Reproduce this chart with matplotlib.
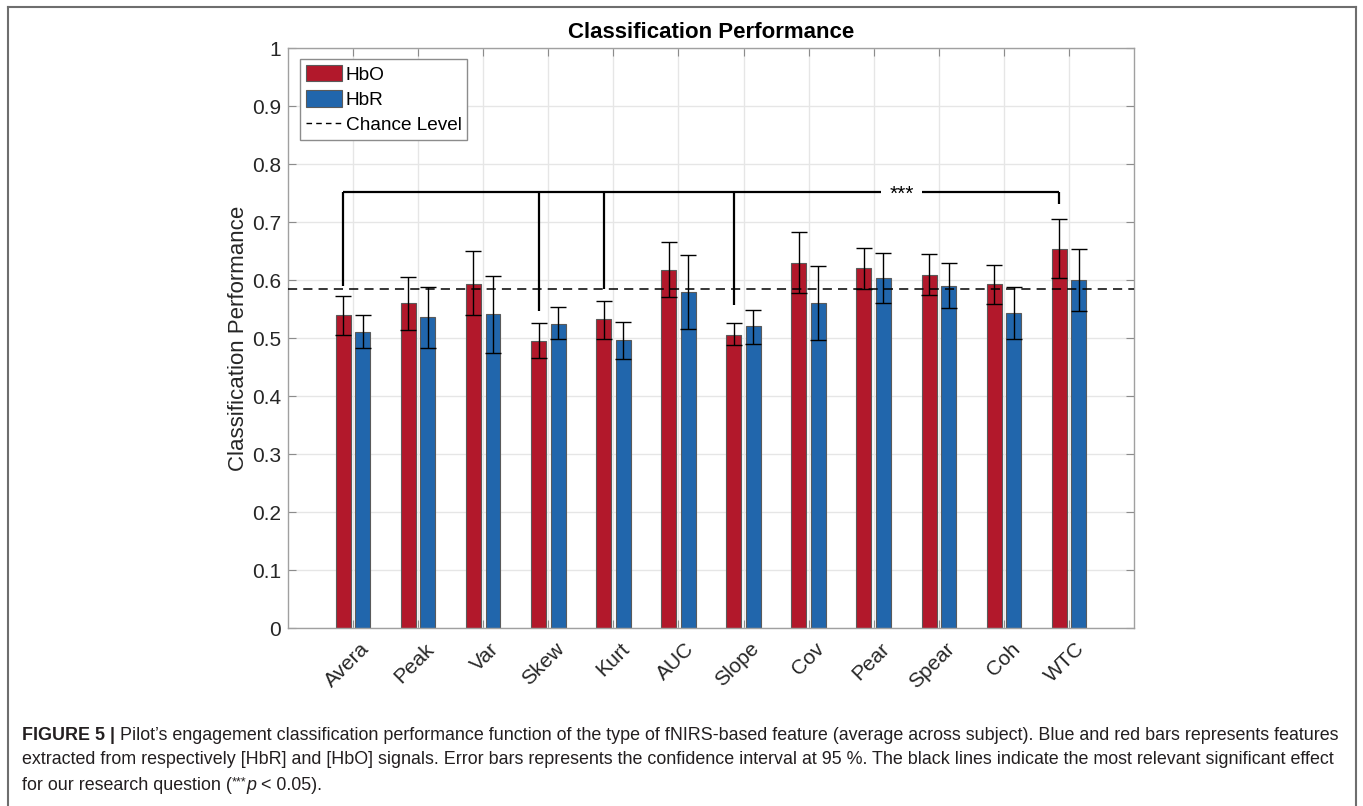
import numpy as np
import matplotlib
matplotlib.use("Agg")
import matplotlib.pyplot as plt
from matplotlib.lines import Line2D
from matplotlib.patches import Patch

plt.rcParams['font.family'] = ['Liberation Sans', 'DejaVu Sans']

# data
features = ["Avera", "Peak", "Var", "Skew", "Kurt", "AUC", "Slope",
            "Cov", "Pear", "Spear", "Coh", "WTC"]
hbo = [0.539, 0.560, 0.594, 0.495, 0.532, 0.618, 0.506,
       0.630, 0.620, 0.609, 0.593, 0.654]
hbo_lo = [0.505, 0.514, 0.539, 0.465, 0.499, 0.571, 0.488,
          0.578, 0.584, 0.574, 0.558, 0.603]
hbo_hi = [0.573, 0.605, 0.650, 0.526, 0.564, 0.666, 0.526,
          0.682, 0.656, 0.645, 0.626, 0.705]
hbr = [0.511, 0.536, 0.541, 0.525, 0.496, 0.579, 0.520,
       0.561, 0.603, 0.590, 0.544, 0.600]
hbr_lo = [0.483, 0.483, 0.475, 0.498, 0.464, 0.515, 0.490,
          0.496, 0.560, 0.551, 0.499, 0.546]
hbr_hi = [0.539, 0.588, 0.607, 0.554, 0.528, 0.643, 0.549,
          0.625, 0.647, 0.630, 0.588, 0.654]
chance = 0.584

# significance bracket: which HbO bars, where each leg ends, bar height
sig_idx = [0, 3, 4, 6, 11]
sig_ends = [0.590, 0.546, 0.584, 0.557, 0.731]
sig_y = 0.751
sig_label = "***"

red = '#b2182b'
blue = '#2166ac'

x = np.arange(1, len(features) + 1)
off = 0.15
w = 0.23

fig = plt.figure(figsize=(13.63, 8.06), dpi=100)
ax = fig.add_axes([0.2113, 0.2208, 0.6207, 0.7196])

ax.grid(True, color='#e6e6e6', lw=1, zorder=0)
ax.set_axisbelow(True)

hbo = np.array(hbo); hbr = np.array(hbr)
err_o = [hbo - np.array(hbo_lo), np.array(hbo_hi) - hbo]
err_r = [hbr - np.array(hbr_lo), np.array(hbr_hi) - hbr]

ax.bar(x - off, hbo, w, color=red, edgecolor='#5a5a5a', lw=0.8, zorder=2)
ax.bar(x + off, hbr, w, color=blue, edgecolor='#5a5a5a', lw=0.8, zorder=2)
ax.errorbar(x - off, hbo, yerr=err_o, fmt='none', ecolor='black',
            elinewidth=1, capsize=5.5, capthick=1, zorder=3)
ax.errorbar(x + off, hbr, yerr=err_r, fmt='none', ecolor='black',
            elinewidth=1, capsize=5.5, capthick=1, zorder=3)

ax.axhline(chance, color='black', ls=(0, (6, 4)), lw=1.1, zorder=4)

# bracket
bx = x[sig_idx] - off
ax.plot([bx[0], bx[-1]], [sig_y, sig_y], color='black', lw=1.6, zorder=5,
        solid_capstyle='butt')
for xi, ye in zip(bx, sig_ends):
    ax.plot([xi, xi], [ye, sig_y], color='black', lw=1.6, zorder=5,
            solid_capstyle='butt')
ax.text(9.43, sig_y - 0.003, sig_label, ha='center', va='center', fontsize=15,
        zorder=6, bbox=dict(facecolor='white', edgecolor='none', pad=6))

ax.set_xlim(0, 13)
ax.set_ylim(0, 1)
ax.set_yticks(np.arange(0, 1.01, 0.1))
ax.set_yticklabels(['%g' % round(v, 1) for v in np.arange(0, 1.01, 0.1)])
ax.set_xticks(x)
ax.set_xticklabels([])
for xi, name in zip(x, features):
    ax.annotate(name, xy=(xi, 0), xycoords=('data', 'axes fraction'),
                xytext=(4.5, -8), textcoords='offset points', rotation=45,
                ha='right', va='top', rotation_mode='anchor', fontsize=15,
                color='#262626', annotation_clip=False)

ax.tick_params(direction='in', length=6, color='#8c8c8c', labelsize=15,
               labelcolor='#262626', top=True, right=True, width=0.8)
ax.tick_params(axis='y', pad=5)
for s in ax.spines.values():
    s.set_color('#a0a0a0')
    s.set_linewidth(1)

ax.set_ylabel("Classification Performance", fontsize=16, color='#262626',
              labelpad=2)
ax.set_title("Classification Performance", fontsize=16, fontweight='bold',
             pad=7)

handles = [Patch(facecolor=red, edgecolor='#5a5a5a', lw=0.8),
           Patch(facecolor=blue, edgecolor='#5a5a5a', lw=0.8),
           Line2D([0], [0], color='black', ls=(0, (4, 3)), lw=1)]
leg = ax.legend(handles, ["HbO", "HbR", "Chance Level"], loc='upper left',
                bbox_to_anchor=(0.014, 0.981), borderaxespad=0, fontsize=13.7,
                fancybox=False, framealpha=1, edgecolor='#8c8c8c',
                handlelength=1.9, handleheight=0.95, labelspacing=0.35,
                handletextpad=0.2, borderpad=0.3)
leg.get_frame().set_linewidth(1)

# page frame
fc = '#6e6e6e'
W, H = 1363, 806
for xs, ys in [([8, 8], [7, 806]), ([8, 1356], [7, 7]), ([1356, 1356], [7, 806])]:
    fig.add_artist(Line2D([v / W for v in xs], [1 - v / H for v in ys],
                          color=fc, lw=1.5, transform=fig.transFigure))

# caption
cap_fs = 12.9
tc = '#231f20'
cx = 22 / W
b = fig.text(cx, 1 - 735 / H, "FIGURE 5 |", fontsize=cap_fs, fontweight='bold',
             va='center', color=tc)
plt.annotate(" Pilot\u2019s engagement classification performance function of the type of "
             "fNIRS-based feature (average across subject). Blue and red bars represents features",
             xy=(1, 0.5), xycoords=b, va='center', ha='left', fontsize=cap_fs,
             color=tc, annotation_clip=False)
fig.text(cx, 1 - 760 / H, "extracted from respectively [HbR] and [HbO] signals. Error bars "
         "represents the confidence interval at 95 %. The black lines indicate the most "
         "relevant significant effect", fontsize=cap_fs, va='center', color=tc)
c1 = fig.text(cx, 1 - 786 / H, "for our research question (", fontsize=cap_fs,
              va='center', color=tc)
c2 = plt.annotate("***", xy=(1, 0.7), xycoords=c1, va='center', ha='left',
                  fontsize=cap_fs * 0.7, color=tc, annotation_clip=False)
c3 = plt.annotate("p", xy=(1, 0.5), xycoords=(c2, c1), va='center', ha='left',
                  fontsize=cap_fs, style='italic', color=tc, annotation_clip=False)
plt.annotate(" < 0.05).", xy=(1, 0.5), xycoords=(c3, c1), va='center', ha='left',
             fontsize=cap_fs, color=tc, annotation_clip=False)

fig.savefig("out.png", dpi=100)
